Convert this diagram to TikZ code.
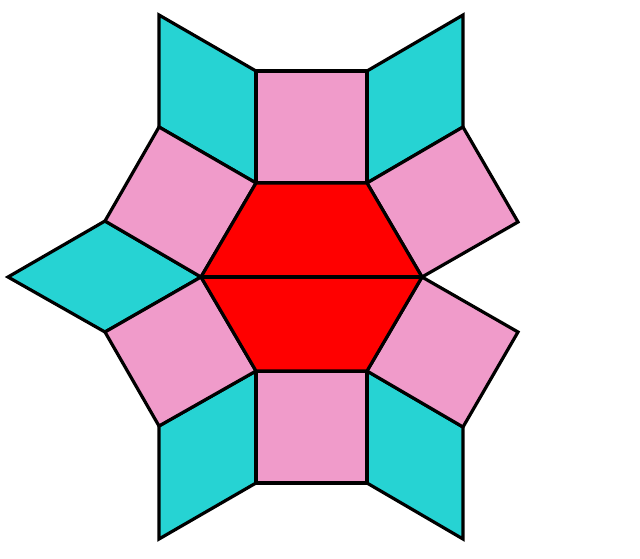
\documentclass[tikz,border=0pt]{standalone}
\definecolor{tilepink}{RGB}{240,155,202}
\definecolor{tilecyan}{RGB}{38,211,211}
\definecolor{tilered}{RGB}{255,0,0}
\begin{document}
\begin{tikzpicture}[x=1pt,y=-1pt,
  tile/.style={draw=black,line width=3.2pt,line join=miter},
  sq/.style={tile,fill=tilepink},
  rh/.style={tile,fill=tilecyan},
  hx/.style={tile,fill=tilered}]
\useasboundingbox (0,0) rectangle (640,558);
% hexagon vertices
\coordinate (H1) at (422,277);
\coordinate (H2) at (367,183);
\coordinate (H3) at (256,183);
\coordinate (H4) at (201,277);
\coordinate (H5) at (256,371);
\coordinate (H6) at (367,371);
% outer square corners
\coordinate (T1) at (256,71);
\coordinate (T2) at (367,71);
\coordinate (UL1) at (159,127);
\coordinate (UL2) at (105,221);
\coordinate (UR1) at (463,127);
\coordinate (UR2) at (518,222);
\coordinate (LR1) at (518,332);
\coordinate (LR2) at (463,427);
\coordinate (B1) at (367,483);
\coordinate (B2) at (256,483);
\coordinate (LL1) at (105,332);
\coordinate (LL2) at (159,426);
% rhombus tips
\coordinate (RTL) at (159,15);
\coordinate (RTR) at (463,15);
\coordinate (RL) at (8,277);
\coordinate (RBL) at (159,539);
\coordinate (RBR) at (463,539);
% rhombi
\draw[rh] (H3) -- (T1) -- (RTL) -- (UL1) -- cycle;
\draw[rh] (H2) -- (T2) -- (RTR) -- (UR1) -- cycle;
\draw[rh] (H4) -- (UL2) -- (RL) -- (LL1) -- cycle;
\draw[rh] (H5) -- (LL2) -- (RBL) -- (B2) -- cycle;
\draw[rh] (H6) -- (B1) -- (RBR) -- (LR2) -- cycle;
% squares
\draw[sq] (H3) -- (H2) -- (T2) -- (T1) -- cycle;
\draw[sq] (H2) -- (H1) -- (UR2) -- (UR1) -- cycle;
\draw[sq] (H1) -- (H6) -- (LR2) -- (LR1) -- cycle;
\draw[sq] (H6) -- (H5) -- (B2) -- (B1) -- cycle;
\draw[sq] (H5) -- (H4) -- (LL1) -- (LL2) -- cycle;
\draw[sq] (H4) -- (H3) -- (UL1) -- (UL2) -- cycle;
% hexagon
\draw[hx] (H1) -- (H2) -- (H3) -- (H4) -- (H5) -- (H6) -- cycle;
\draw[tile] (H4) -- (H1);
\end{tikzpicture}
\end{document}
